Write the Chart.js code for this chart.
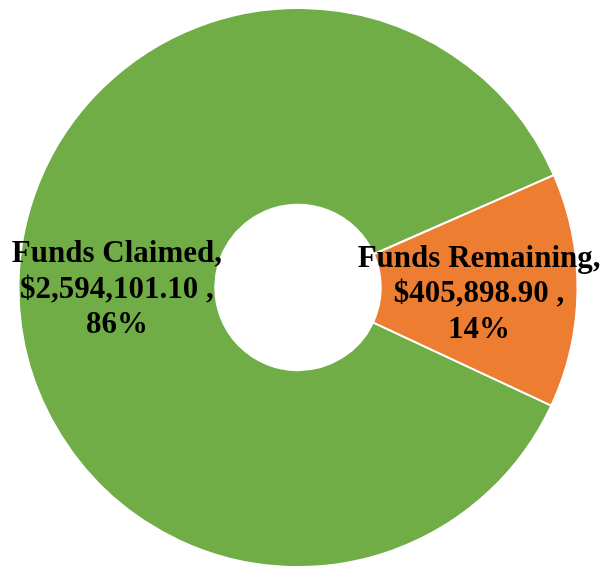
<!DOCTYPE html>
<html>
<head>
<meta charset="utf-8">
<script src="https://cdn.jsdelivr.net/npm/chart.js@4/dist/chart.umd.min.js"></script>
<style>
    html, body { margin: 0; padding: 0; background: #ffffff; }
    #wrap { width: 604px; height: 568px; }
</style>
</head>
<body>
<div id="wrap"><canvas id="chart-funds"></canvas></div>
<script>
(function () {
    'use strict';

    var categories = ['Funds Claimed', 'Funds Remaining'];
    var amounts = [2594101.10, 405898.90];
    var colors = ['#70AD47', '#ED7D31'];

    function money(v) {
        return '$' + v.toLocaleString('en-US', { minimumFractionDigits: 2, maximumFractionDigits: 2 });
    }

    // Draw "Name, / $value , / pct%" on the middle of each ring segment
    var sliceLabels = {
        id: 'sliceLabels',
        afterDatasetsDraw: function (chart) {
            var ctx = chart.ctx;
            var meta = chart.getDatasetMeta(0);
            var total = amounts.reduce(function (a, b) { return a + b; }, 0);
            ctx.save();
            ctx.font = 'bold 31px "Liberation Serif", "Times New Roman", serif';
            ctx.fillStyle = '#000000';
            ctx.textAlign = 'center';
            ctx.textBaseline = 'middle';
            meta.data.forEach(function (arc, i) {
                var pos = arc.tooltipPosition();
                var lines = [
                    categories[i] + ',',
                    money(amounts[i]) + ' ,',
                    Math.round(amounts[i] / total * 100) + '%'
                ];
                var lh = 35.5;
                lines.forEach(function (t, k) {
                    ctx.fillText(t, pos.x, pos.y + 4.5 + (k - 1) * lh);
                });
            });
            ctx.restore();
        }
    };

    new Chart(document.getElementById('chart-funds'), {
        type: 'doughnut',
        data: {
            labels: categories,
            datasets: [{
                data: amounts,
                backgroundColor: colors,
                borderColor: '#ffffff',
                borderWidth: 2,
                hoverOffset: 0,
            }],
        },
        options: {
            responsive: true,
            maintainAspectRatio: false,
            animation: false,
            rotation: 115,
            cutout: '29.6%',
            layout: { padding: { top: 7, bottom: 0, left: 17, right: 25 } },
            plugins: {
                legend: { display: false },
                tooltip: { enabled: false },
            },
        },
        plugins: [sliceLabels],
    });
})();
</script>
</body>
</html>
